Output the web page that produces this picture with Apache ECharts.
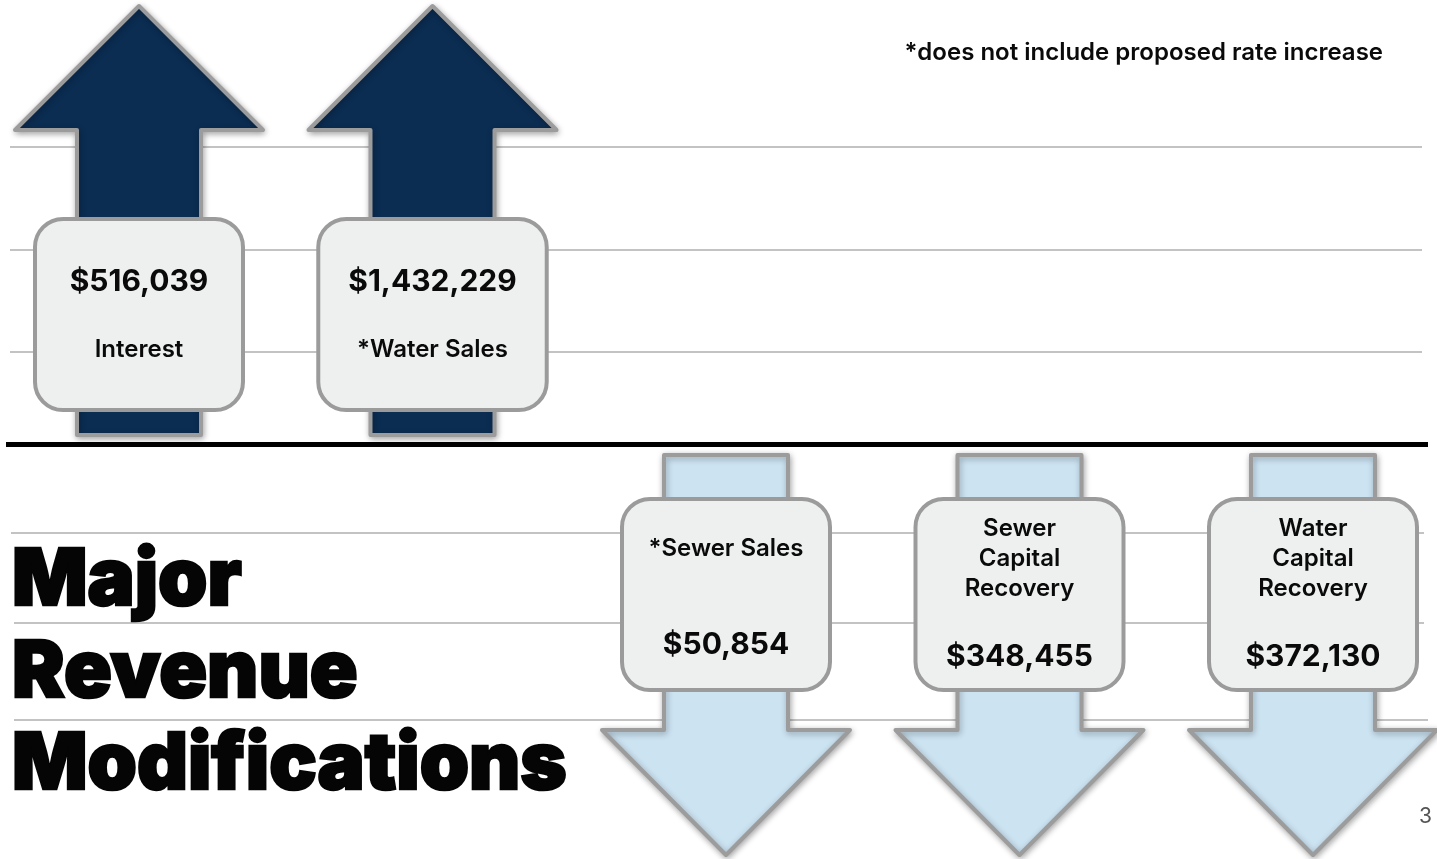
<!DOCTYPE html>
<html><head><meta charset="utf-8">
<script src="https://cdn.jsdelivr.net/npm/echarts@6/dist/echarts.min.js"></script>
<style>html,body{margin:0;padding:0;background:#fff;}#c{width:1437px;height:859px;}</style>
</head><body><div id="c"></div>
<script>
// ---- data ----
const categories = ['Interest', '*Water Sales', '*Sewer Sales', 'Sewer\nCapital\nRecovery', 'Water\nCapital\nRecovery'];
const changes = [516039, 1432229, -50854, -348455, -372130];
const titleText = 'Major\nRevenue\nModifications';
const footnote = '*does not include proposed rate increase';
const pageNumber = '3';

// ---- styling ----
const FONT = 'Inter, "Liberation Sans", Arial, sans-serif';
const UP_FILL = '#0b2d52', DOWN_FILL = '#cce3f2', OUTLINE = '#9c9c9c';
const BOX_FILL = '#eef0f0', BOX_STROKE = '#9b9b9b';
const measureCtx = document.createElement('canvas').getContext('2d');
function textWidth(t, font) { measureCtx.font = font; return measureCtx.measureText(t).width; }
function money(v) { return '$' + Math.abs(v).toLocaleString('en-US'); }

const chart = echarts.init(document.getElementById('c'), null, { renderer: 'canvas' });

function renderItem(params, api) {
  const i = api.value(0), v = api.value(1);
  const p = api.coord([i, 0]);
  const cx = p[0], B = p[1];
  const up = v >= 0;
  const hw = 124, sw = 62;
  let pts;
  if (up) {
    const bot = B - 9, hb = B - 314, tip = B - 438;
    pts = [[cx - sw, bot], [cx - sw, hb], [cx - hw, hb], [cx, tip], [cx + hw, hb], [cx + sw, hb], [cx + sw, bot]];
  } else {
    const top = B + 11, hb = B + 286, tip = B + 411;
    pts = [[cx - sw, top], [cx - sw, hb], [cx - hw, hb], [cx, tip], [cx + hw, hb], [cx + sw, hb], [cx + sw, top]];
  }
  const amt = money(v);
  const label = categories[i];
  const n = label.split('\n').length;
  const bw = Math.max(208, textWidth(amt, '700 30px ' + FONT) + 60);
  const bh = 191;
  const by = up ? B - 225 : B + 55;
  const bx = cx - bw / 2;
  let amtY, labY;
  if (up) { amtY = by + 63; labY = by + 131; }
  else { labY = by + 50 + (n - 1) * 5; amtY = by + 146 + (n - 1) * 6; }
  return {
    type: 'group',
    children: [
      {
        type: 'polygon',
        shape: { points: pts },
        style: {
          fill: up ? UP_FILL : DOWN_FILL, stroke: OUTLINE, lineWidth: 4, lineJoin: 'round',
          shadowBlur: 6, shadowColor: 'rgba(0,0,0,0.3)', shadowOffsetX: 1, shadowOffsetY: 2
        }
      },
      {
        type: 'rect',
        shape: { x: bx, y: by, width: bw, height: bh, r: 28 },
        style: { fill: BOX_FILL, stroke: BOX_STROKE, lineWidth: 4 }
      },
      {
        type: 'text',
        style: {
          text: amt, x: cx, y: amtY, align: 'center', verticalAlign: 'middle',
          fontFamily: FONT, fontSize: 30, fontWeight: 700, fill: '#0a0a0a'
        }
      },
      {
        type: 'text',
        style: {
          text: label, x: cx, y: labY, align: 'center', verticalAlign: 'middle',
          fontFamily: FONT, fontSize: 24, fontWeight: 600, lineHeight: 30, fill: '#0a0a0a'
        }
      }
    ]
  };
}

const hLines = [
  [10, 147, 1422], [10, 250, 1422], [10, 352, 1422],
  [11, 533, 1424], [14, 623, 1424], [14, 720, 1428]
];

const option = {
  backgroundColor: '#ffffff',
  animation: false,
  title: [
    {
      text: titleText, left: 7, top: 530,
      textStyle: {
        fontFamily: FONT, fontSize: 79, fontWeight: 900, lineHeight: 92, color: '#050505',
        textBorderColor: '#050505', textBorderWidth: 2.5
      }
    },
    {
      text: footnote, right: 49, top: 36,
      textStyle: { fontFamily: FONT, fontSize: 24, fontWeight: 600, color: '#0a0a0a' }
    },
    {
      text: pageNumber, right: 0, top: 801,
      textStyle: { fontFamily: FONT, fontSize: 21, fontWeight: 400, color: '#555555' }
    }
  ],
  graphic: hLines.map(l => ({
    type: 'line', z: 0, silent: true,
    shape: { x1: l[0], y1: l[1], x2: l[2], y2: l[1] },
    style: { stroke: '#c3c3c3', lineWidth: 2 }
  })).concat([{
    type: 'rect', z: 0, silent: true,
    shape: { x: 6, y: 442, width: 1422, height: 5 },
    style: { fill: '#000000' }
  }]),
  grid: { left: 139, right: 124, top: 29, bottom: 0 },
  xAxis: { type: 'category', data: categories, boundaryGap: false, show: false },
  yAxis: { type: 'value', min: -1, max: 1, show: false },
  series: [{
    type: 'custom',
    z: 5,
    renderItem: renderItem,
    data: categories.map((c, i) => [i, changes[i]])
  }]
};
chart.setOption(option);
</script>
</body></html>
